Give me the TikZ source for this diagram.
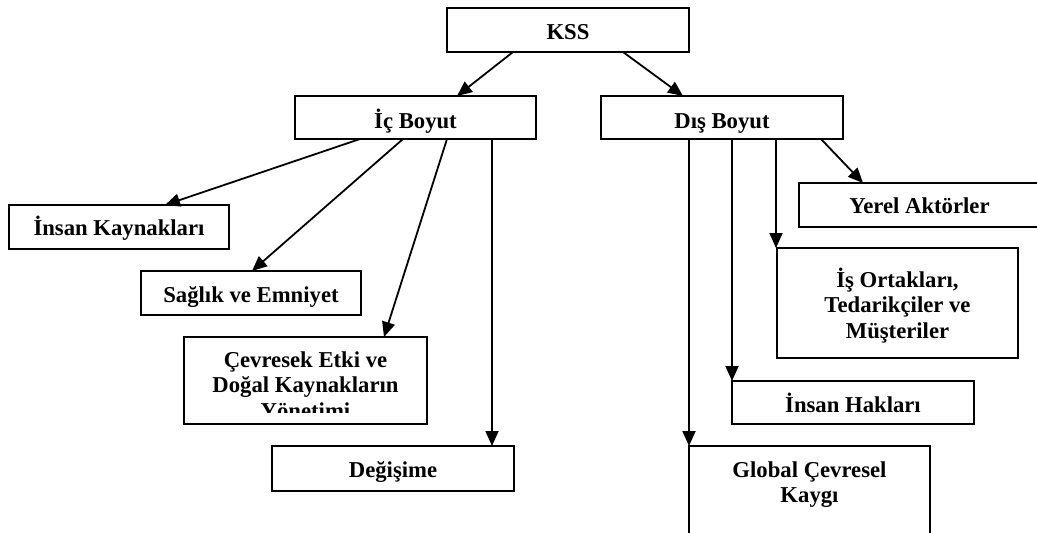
\documentclass[tikz,border=0pt]{standalone}
\usepackage{fontspec}
\setmainfont{Liberation Serif}
\usetikzlibrary{arrows.meta,calc}
\newcommand{\bxt}[4]{\parbox[c][#2pt][t]{#1pt}{\centering\fontsize{22.7}{25.8}\selectfont\bfseries\rule{0pt}{#3pt}#4\par}}
\begin{document}
\begin{tikzpicture}[x=1pt,y=-1pt,
  box/.style={draw,line width=2pt,inner sep=0pt,outer sep=0pt,anchor=north west},
  plain/.style={inner sep=0pt,outer sep=0pt,anchor=north west},
  arr/.style={line width=1.8pt,-{Triangle[length=15pt,width=13pt]}},
  ]
\useasboundingbox (0,0) rectangle (1037,533);
\clip (0,0) rectangle (1037,533);
\node[box] (kss) at (447,8) {\bxt{242}{44}{31}{KSS}};
\node[box] (ic) at (295,96) {\bxt{241}{43}{32}{İç Boyut}};
\node[box] (dis) at (601,96) {\bxt{242}{43}{32}{Dış Boyut}};
\node[box] (ik) at (9,205) {\bxt{220}{44}{30}{İnsan Kaynakları}};
\node[box] (sag) at (141,271) {\bxt{220}{44}{31}{Sağlık ve Emniyet}};
\begin{scope}
\clip (184,337) rectangle (427,412);
\node[plain] (cev) at (184,337) {\bxt{243}{87}{30}{Çevresek Etki ve\\Doğal Kaynakların\\Yönetimi}};
\end{scope}
\draw[line width=2pt] (cev.north west) rectangle (cev.south east);
\node[box] (deg) at (272,446) {\bxt{242}{45}{31}{Değişime}};
\node[box] (yer) at (799,183) {\bxt{241}{44}{30}{Yerel Aktörler}};
\node[box] (is) at (777,248) {\bxt{241}{110}{39}{İş Ortakları,\\Tedarikçiler ve\\Müşteriler}};
\node[box] (hak) at (732,381) {\bxt{242}{43}{31}{İnsan Hakları}};
\node[box] (glo) at (689,446) {\bxt{241}{100}{31}{Global Çevresel\\Kaygı}};

\draw[arr] ($(kss.south west)+(66,0)$) -- ($(ic.north west)+(162,0)$);
\draw[arr] ($(kss.south west)+(176,0)$) -- ($(dis.north west)+(82,0)$);
\draw[arr] ($(ic.south west)+(65,0)$) -- ($(ik.north west)+(156,0)$);
\draw[arr] ($(ic.south west)+(108,0)$) -- ($(sag.north west)+(111,0)$);
\draw[arr] ($(ic.south west)+(152,0)$) -- ($(cev.north west)+(200,0)$);
\draw[arr] ($(ic.south west)+(197,0)$) coordinate (a1) -- (a1 |- deg.north);
\draw[arr] ($(dis.south west)+(88,0)$) coordinate (b1) -- (b1 |- glo.north);
\draw[arr] ($(dis.south west)+(131,0)$) coordinate (b2) -- (b2 |- hak.north);
\draw[arr] ($(dis.south west)+(175,0)$) coordinate (b3) -- (b3 |- is.north);
\draw[arr] ($(dis.south west)+(220,0)$) -- ($(yer.north west)+(64,0)$);
\end{tikzpicture}
\end{document}
